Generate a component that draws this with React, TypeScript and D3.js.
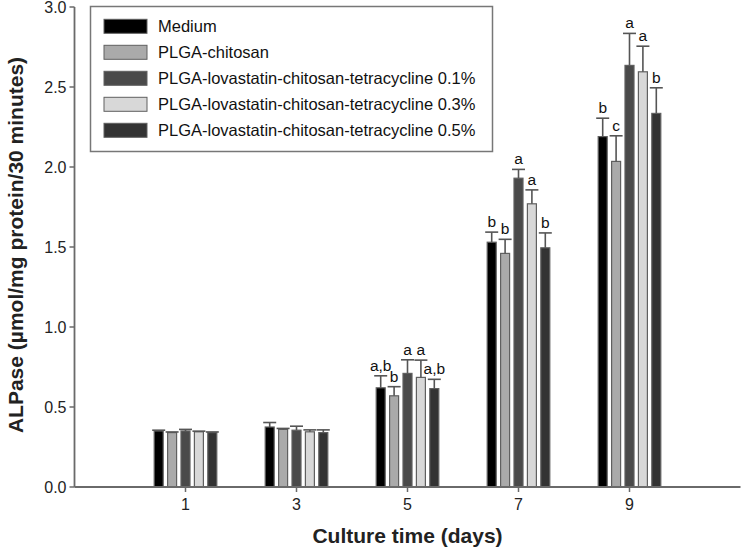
import React from "react";
import * as d3 from "d3";

const days = [1, 3, 5, 7, 9];
const seriesNames = [
  "Medium",
  "PLGA-chitosan",
  "PLGA-lovastatin-chitosan-tetracycline 0.1%",
  "PLGA-lovastatin-chitosan-tetracycline 0.3%",
  "PLGA-lovastatin-chitosan-tetracycline 0.5%",
];
const seriesColors = ["#000000", "#aaaaaa", "#4a4a4a", "#d8d8d8", "#333333"];

const medium = [0.35, 0.375, 0.62, 1.53, 2.19];
const plgaChitosan = [0.34, 0.36, 0.57, 1.46, 2.035];
const lova01 = [0.35, 0.355, 0.71, 1.93, 2.635];
const lova03 = [0.345, 0.345, 0.685, 1.77, 2.595];
const lova05 = [0.34, 0.34, 0.615, 1.495, 2.335];

const mediumErr = [0.005, 0.028, 0.075, 0.063, 0.115];
const plgaChitosanErr = [0.004, 0.006, 0.057, 0.088, 0.16];
const lova01Err = [0.01, 0.025, 0.085, 0.055, 0.2];
const lova03Err = [0.004, 0.012, 0.108, 0.087, 0.16];
const lova05Err = [0.004, 0.017, 0.058, 0.093, 0.16];

const mediumLbl = ["", "", "a,b", "b", "b"];
const plgaChitosanLbl = ["", "", "b", "b", "c"];
const lova01Lbl = ["", "", "a", "a", "a"];
const lova03Lbl = ["", "", "a", "a", "a"];
const lova05Lbl = ["", "", "a,b", "b", "b"];

const values = [medium, plgaChitosan, lova01, lova03, lova05];
const errors = [mediumErr, plgaChitosanErr, lova01Err, lova03Err, lova05Err];
const labels = [mediumLbl, plgaChitosanLbl, lova01Lbl, lova03Lbl, lova05Lbl];

const yTicks = [0, 0.5, 1.0, 1.5, 2.0, 2.5, 3.0];

export default function App() {
  const W = 741;
  const H = 550;
  const x0 = 74.5;
  const yBase = 487;
  const x = d3.scaleLinear().domain([-1, 11]).range([x0, 740.5]);
  const y = d3.scaleLinear().domain([0, 3]).range([yBase, 7]);
  const pitch = 13.4;
  const bw = 9;
  const font = "'Liberation Sans', Arial, Helvetica, sans-serif";
  const axisColor = "#6a6a6a";
  const errColor = "#555555";

  return (
    <svg
      width={W}
      height={H}
      style={{ position: "absolute", left: 0, top: 0, background: "#fff" }}
      fontFamily={font}
    >
      <rect x={0} y={0} width={W} height={H} fill="#fff" />
      {/* bars */}
      {values.map((vals, si) =>
        vals.map((v, di) => {
          const cx = x(days[di]) + (si - 2) * pitch;
          return (
            <rect
              key={`b${si}-${di}`}
              x={cx - bw / 2}
              y={y(v)}
              width={bw}
              height={yBase - y(v)}
              fill={seriesColors[si]}
              stroke="#606060"
              strokeWidth={1.2}
            />
          );
        })
      )}
      {/* error bars */}
      {values.map((vals, si) =>
        vals.map((v, di) => {
          const cx = x(days[di]) + (si - 2) * pitch;
          const top = y(v + errors[si][di]);
          return (
            <g key={`e${si}-${di}`} stroke={errColor} strokeWidth={1.6}>
              <line x1={cx} x2={cx} y1={y(v)} y2={top} />
              <line x1={cx - 6.5} x2={cx + 6.5} y1={top} y2={top} />
            </g>
          );
        })
      )}
      {/* significance letters */}
      {values.map((vals, si) =>
        vals.map((v, di) => {
          const t = labels[si][di];
          if (!t) return null;
          const cx = x(days[di]) + (si - 2) * pitch;
          const top = y(v + errors[si][di]);
          return (
            <text
              key={`l${si}-${di}`}
              x={cx}
              y={top - 5}
              textAnchor="middle"
              fontSize={15.5}
              fill="#111"
            >
              {t}
            </text>
          );
        })
      )}
      {/* y axis */}
      <line x1={x0} x2={x0} y1={y(3)} y2={yBase} stroke={axisColor} strokeWidth={1.8} />
      {yTicks.map((t) => (
        <g key={`yt${t}`}>
          <line x1={x0 - 5} x2={x0} y1={y(t)} y2={y(t)} stroke={axisColor} strokeWidth={1.5} />
          <text
            x={x0 - 8}
            y={y(t) + 5.5}
            textAnchor="end"
            fontSize={16}
            fill="#222"
          >
            {t.toFixed(1)}
          </text>
        </g>
      ))}
      {/* x axis */}
      <line x1={x0} x2={740.5} y1={yBase} y2={yBase} stroke={axisColor} strokeWidth={1.8} />
      {days.map((d) => (
        <g key={`xt${d}`}>
          <line x1={x(d)} x2={x(d)} y1={yBase} y2={yBase + 5} stroke={axisColor} strokeWidth={1.5} />
          <text x={x(d)} y={yBase + 23} textAnchor="middle" fontSize={16} fill="#222">
            {d}
          </text>
        </g>
      ))}
      {/* axis titles */}
      <text
        x={x(5)}
        y={543}
        textAnchor="middle"
        fontSize={21}
        fontWeight="bold"
        fill="#222"
      >
        Culture time (days)
      </text>
      <text
        transform={`translate(23, 245) rotate(-90)`}
        textAnchor="middle"
        fontSize={21}
        fontWeight="bold"
        fill="#222"
      >
        ALPase (µmol/mg protein/30 minutes)
      </text>
      {/* legend */}
      <rect x={90.5} y={6.5} width={402} height={145} fill="#fff" stroke="#777" strokeWidth={1.5} />
      {seriesNames.map((n, i) => {
        const cy = 26.3 + i * 26;
        return (
          <g key={`lg${i}`}>
            <rect
              x={104}
              y={cy - 7}
              width={43}
              height={14}
              fill={seriesColors[i]}
              stroke="#606060"
              strokeWidth={1}
            />
            <text x={158} y={cy + 6} fontSize={16.5} fill="#111">
              {n}
            </text>
          </g>
        );
      })}
    </svg>
  );
}
